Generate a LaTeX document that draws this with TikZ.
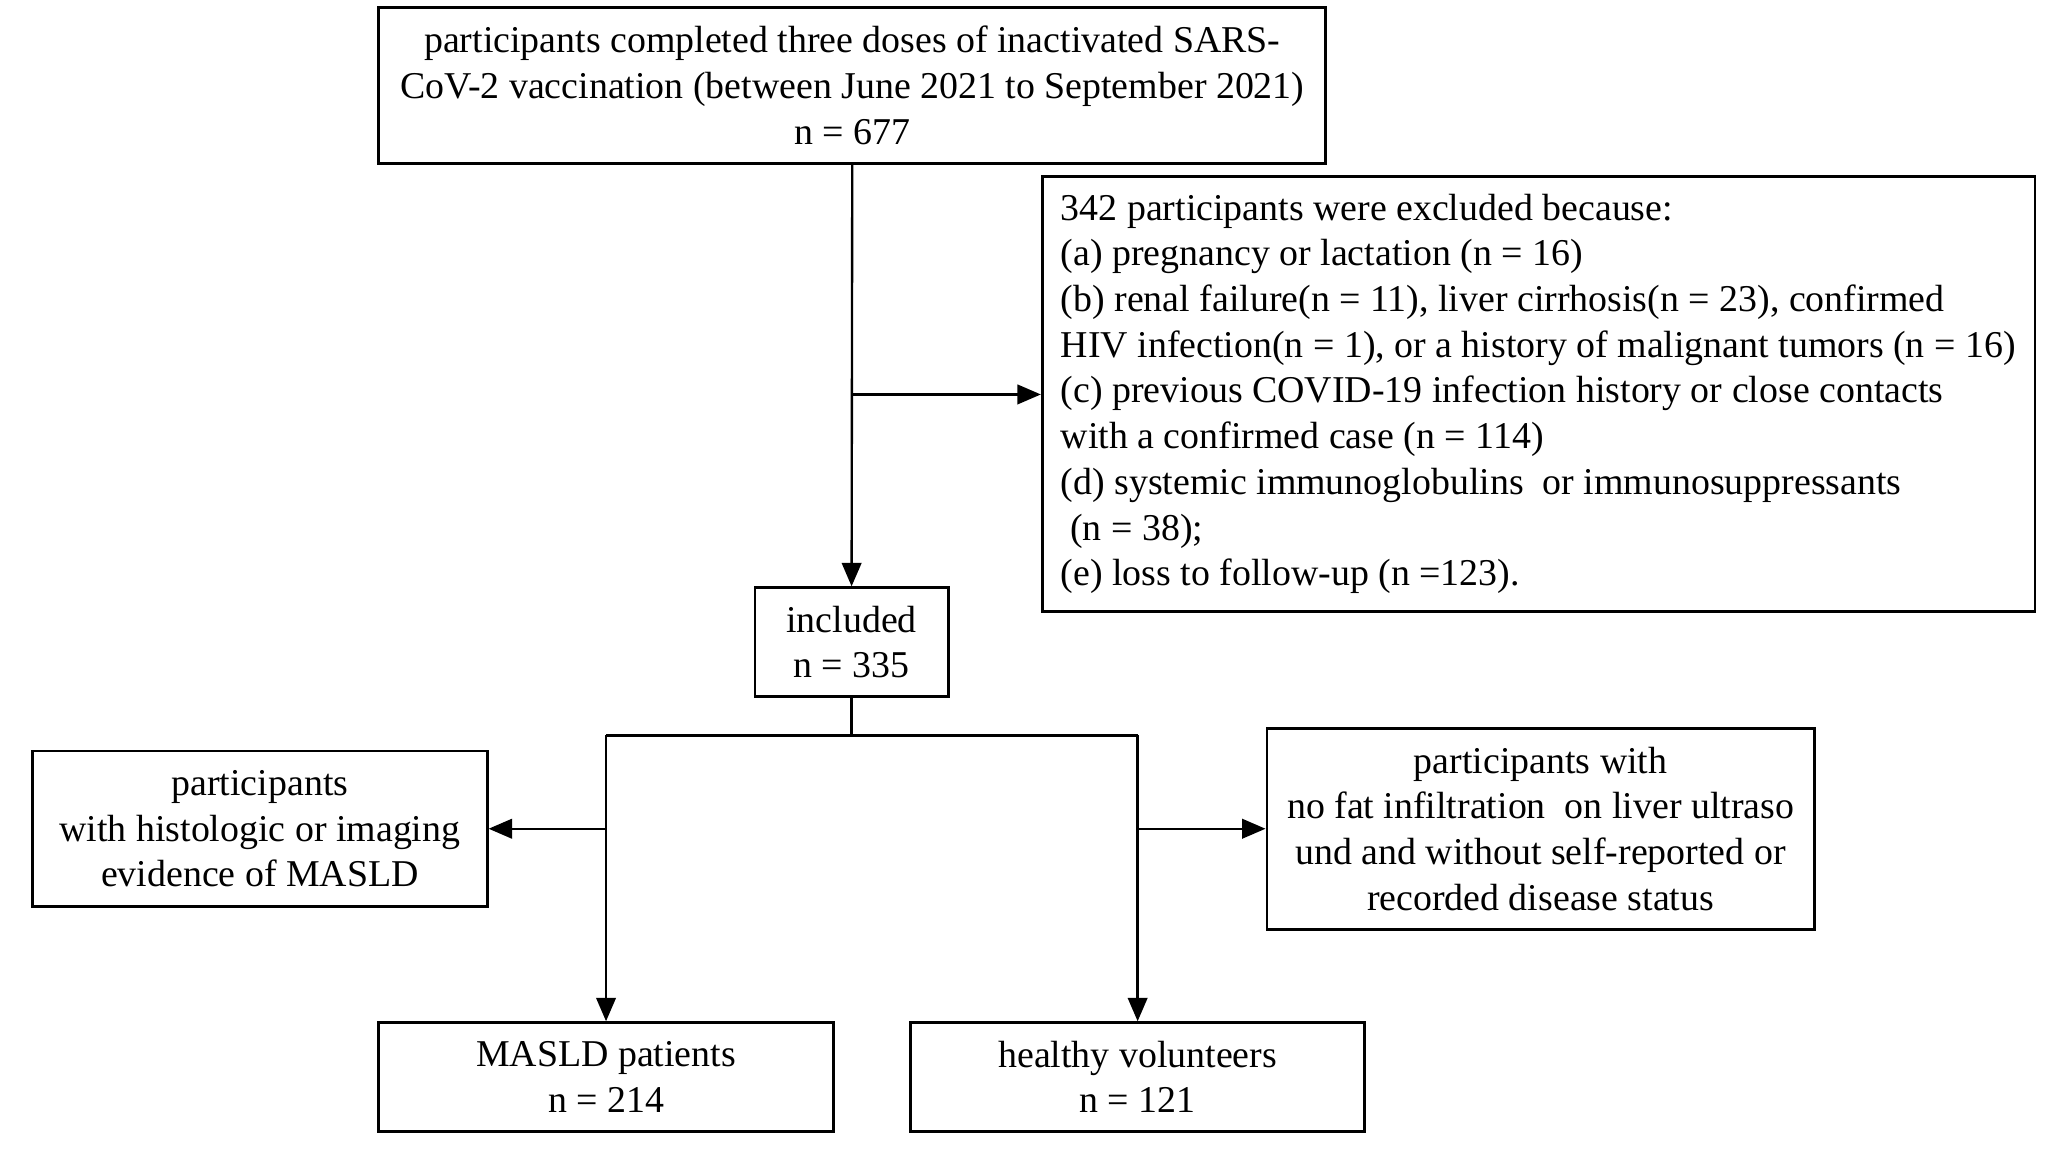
\documentclass[tikz,border=0pt]{standalone}
\usepackage{fontspec}
\setmainfont{Liberation Serif}
\usetikzlibrary{arrows.meta}
\begin{document}
\begin{tikzpicture}[x=1pt,y=-1pt,
  txt/.style={inner sep=0pt,font=\fontsize{29}{35}\selectfont},
  box/.style={txt,draw,line width=2.2pt,align=center},
  conn/.style={line width=1.8pt},
  arr/.style={conn,-{Triangle[length=18pt,width=15pt]}}]
\useasboundingbox[fill=white] (0,0) rectangle (1568,882);

\node[box,minimum width=725pt,minimum height=119pt] (top) at (652.5,65.5)
  {participants completed three doses of inactivated SARS-\\CoV-2 vaccination (between June 2021 to September 2021)\\n = 677};

\node[box,minimum width=760pt,minimum height=333pt] (excl) at (1178,301.5) {};
\node[txt,align=left,anchor=west] (excltext) at (812,301.5)
  {342 participants were excluded because:\\
   (a) pregnancy or lactation (n = 16)\\
   (b) renal failure(n = 11), liver cirrhosis(n = 23), confirmed\\
   HIV infection(n = 1), or a history of malignant tumors (n = 16)\\
   (c) previous COVID-19 infection history or close contacts\\
   with a confirmed case (n = 114)\\
   (d) systemic immunoglobulins\ \ or immunosuppressants\\
   \hspace{0.25em}(n = 38);\\
   (e) loss to follow-up (n =123).};

\node[box,minimum width=148pt,minimum height=83pt] (incl) at (652,491.5)
  {included\\n = 335};

\node[box,minimum width=348pt,minimum height=119pt] (left) at (199,634.5)
  {participants\\with histologic or imaging\\evidence of MASLD};

\node[box,minimum width=419pt,minimum height=154pt] (right) at (1179.5,634.5)
  {participants with\\no fat infiltration\ \ on liver ultraso\\und and without self-reported or\\recorded disease status};

\node[box,minimum width=348pt,minimum height=83pt] (masld) at (464,824.5)
  {MASLD patients\\n = 214};

\node[box,minimum width=348pt,minimum height=83pt] (healthy) at (871,824.5)
  {healthy volunteers\\n = 121};

\coordinate (b1) at (652,302);
\coordinate (split) at (652,563);
\coordinate (sl) at (464,563);
\coordinate (sr) at (871,563);
\coordinate (bl) at (464,634.5);
\coordinate (br) at (871,634.5);

\draw[arr] (top.south) -- (incl.north);
\draw[arr] (b1) -- (b1 -| excl.west);
\draw[conn] (incl.south) -- (split);
\draw[conn] (sl) -- (sr);
\draw[arr] (sl) -- (masld.north);
\draw[arr] (sr) -- (healthy.north);
\draw[arr] (bl) -- (bl -| left.east);
\draw[arr] (br) -- (br -| right.west);
\end{tikzpicture}
\end{document}
